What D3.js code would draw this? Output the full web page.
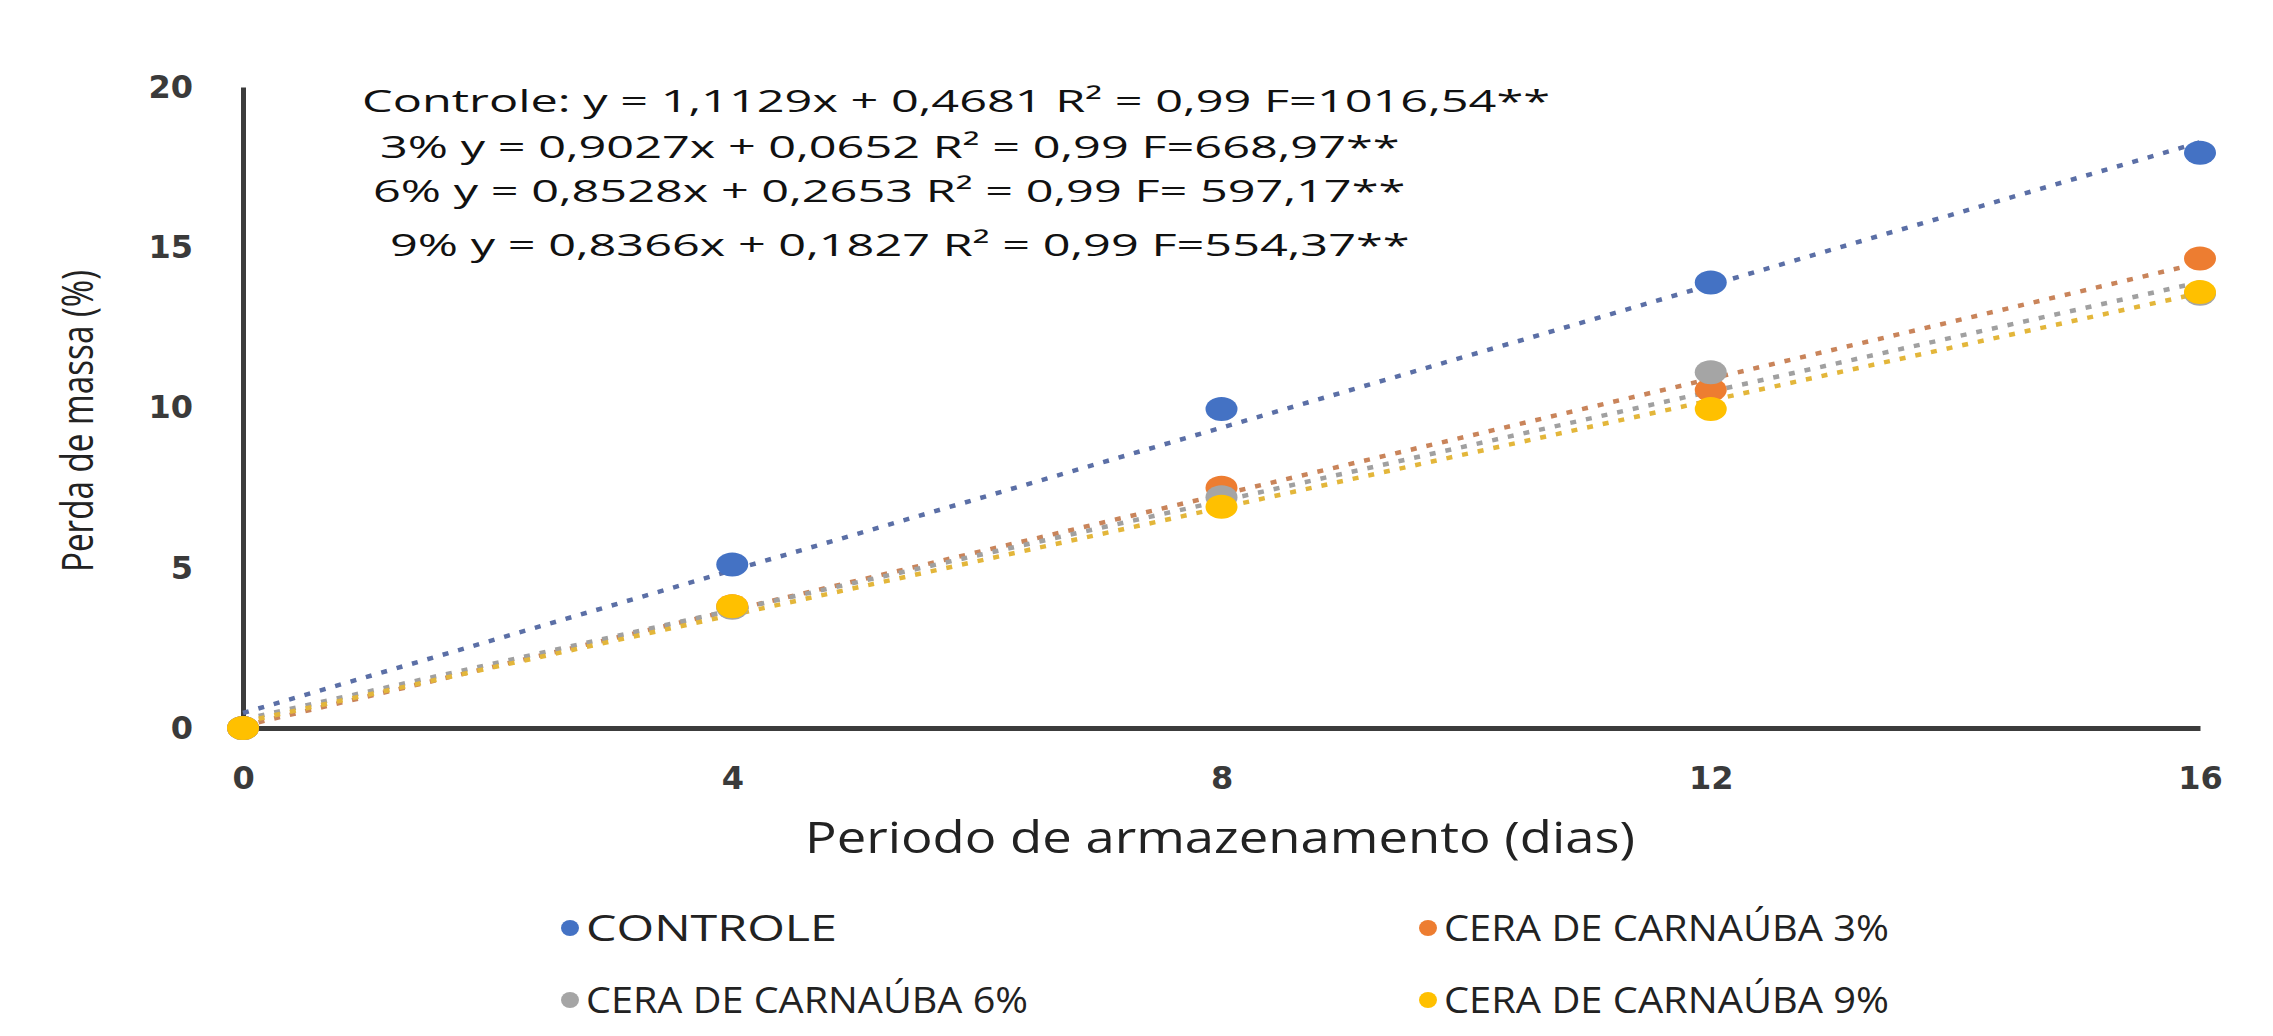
<!DOCTYPE html>
<html>
<head>
<meta charset="utf-8">
<script src="https://cdn.jsdelivr.net/npm/d3@7"></script>
<style>
  body { margin: 0; background: #fff; }
  svg { display: block; }
</style>
</head>
<body>
<script>
// values
var days = [0, 4, 8, 12, 16];
var seriesNames = ["CONTROLE", "CERA DE CARNAÚBA 3%", "CERA DE CARNAÚBA 6%", "CERA DE CARNAÚBA 9%"];
var controle = [0, 5.1, 9.95, 13.9, 17.95];
var cera3 = [0, 3.8, 7.5, 10.55, 14.65];
var cera6 = [0, 3.75, 7.2, 11.1, 13.55];
var cera9 = [0, 3.8, 6.9, 9.95, 13.6];
var slopes = [1.1129, 0.9027, 0.8528, 0.8366];
var intercepts = [0.4681, 0.0652, 0.2653, 0.1827];
var equations = [
  "Controle: y = 1,1129x + 0,4681 R² = 0,99 F=1016,54**",
  "3% y = 0,9027x + 0,0652 R² = 0,99 F=668,97**",
  "6% y = 0,8528x + 0,2653 R² = 0,99 F= 597,17**",
  "9% y = 0,8366x + 0,1827 R² = 0,99 F=554,37**"
];
var xTicks = [0, 4, 8, 12, 16];
var yTicks = [0, 5, 10, 15, 20];

var colors = ["#4472c4", "#ed7d31", "#a5a5a5", "#ffc000"];
var lineColors = ["#5b6fa6", "#c9845a", "#a0a0a0", "#e3b63a"];
var allSeries = [controle, cera3, cera6, cera9];

var width = 2273, height = 1036;

var svg = d3.select("body").append("svg")
    .attr("width", width)
    .attr("height", height);

var x = d3.scaleLinear().domain([0, 16]).range([243, 2200]);
var y = d3.scaleLinear().domain([0, 20]).range([728, 87]);

// axes
var yAxis = svg.append("g")
    .attr("transform", "translate(" + x(0) + ",0)")
    .call(d3.axisLeft(y).tickValues(yTicks).tickSize(0).tickPadding(50));
var xAxis = svg.append("g")
    .attr("transform", "translate(0," + y(0) + ")")
    .call(d3.axisBottom(x).tickValues(xTicks).tickSize(0).tickPadding(38));

[xAxis, yAxis].forEach(function(ax){
  ax.select(".domain").attr("stroke", "#3c3c3c").attr("stroke-width", 5);
  ax.selectAll("text")
    .attr("font-family", "DejaVu Sans")
    .attr("font-weight", "bold")
    .attr("font-size", 32)
    .attr("fill", "#3a3a3a");
});

// trend lines
var trend = svg.append("g");
slopes.forEach(function(b, i){
  trend.append("line")
    .attr("x1", x(0)).attr("y1", y(intercepts[i]))
    .attr("x2", x(16)).attr("y2", y(b * 16 + intercepts[i]))
    .attr("stroke", lineColors[i])
    .attr("stroke-width", 4.5)
    .attr("stroke-dasharray", "6,10");
});

// points
allSeries.forEach(function(vals, i){
  svg.append("g").selectAll("ellipse")
    .data(vals)
    .enter().append("ellipse")
    .attr("cx", function(d, j){ return x(days[j]); })
    .attr("cy", function(d){ return y(d); })
    .attr("rx", 16)
    .attr("ry", 12)
    .attr("fill", colors[i]);
});

// equations
var eqY = [101, 147, 191, 245];
var eqX = [362, 380, 373, 390];
var eqText = svg.append("g").selectAll("text")
  .data(equations)
  .enter().append("text")
  .attr("x", function(d, i){ return eqX[i]; })
  .attr("y", function(d, i){ return eqY[i]; })
  .attr("dy", "0.35em")
  .attr("font-family", "Open Sans")
  .attr("font-size", 31)
  .attr("fill", "#111")
  .text(function(d){ return d; });
var stretch = 1188 / eqText.node().getComputedTextLength();
eqText.each(function(){
  d3.select(this)
    .attr("textLength", this.getComputedTextLength() * stretch)
    .attr("lengthAdjust", "spacingAndGlyphs");
});

// axis titles
svg.append("text")
  .attr("x", 1220).attr("y", 838)
  .attr("dy", "0.35em")
  .attr("text-anchor", "middle")
  .attr("font-family", "Open Sans")
  .attr("font-size", 44)
  .attr("fill", "#222")
  .attr("textLength", 830)
  .attr("lengthAdjust", "spacingAndGlyphs")
  .text("Periodo de armazenamento (dias)");

svg.append("text")
  .attr("transform", "translate(78,421) rotate(-90)")
  .attr("dy", "0.35em")
  .attr("text-anchor", "middle")
  .attr("font-family", "Open Sans")
  .attr("font-size", 44)
  .attr("fill", "#222")
  .attr("textLength", 302)
  .attr("lengthAdjust", "spacingAndGlyphs")
  .text("Perda de massa (%)");

// legend
var legX = [570, 1428, 570, 1428];
var legY = [928, 928, 1000, 1000];
var legW = [251, 445, 442, 445];
var leg = svg.append("g").selectAll("g")
  .data(seriesNames)
  .enter().append("g")
  .attr("transform", function(d, i){ return "translate(" + legX[i] + "," + legY[i] + ")"; });
leg.append("ellipse")
  .attr("rx", 9).attr("ry", 8)
  .attr("fill", function(d, i){ return colors[i]; });
leg.append("text")
  .attr("x", 16)
  .attr("dy", "0.35em")
  .attr("font-family", "Open Sans")
  .attr("font-size", 37)
  .attr("fill", "#222")
  .attr("textLength", function(d, i){ return legW[i]; })
  .attr("lengthAdjust", "spacingAndGlyphs")
  .text(function(d){ return d; });
</script>
</body>
</html>
